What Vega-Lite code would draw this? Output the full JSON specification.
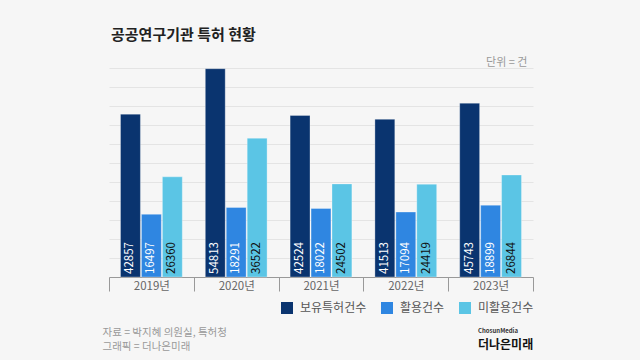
{
  "$schema": "https://vega.github.io/schema/vega-lite/v6.json",
  "width": 424,
  "height": 209,
  "autosize": {"type": "none"},
  "padding": {"left": 109, "top": 68, "right": 107, "bottom": 83},
  "background": "#f6f6f6",
  "config": {
    "view": {"stroke": null},
    "font": "Noto Sans CJK KR"
  },
  "title": {
    "text": "공공연구기관 특허 현황",
    "anchor": "start",
    "frame": "group",
    "fontSize": 15,
    "fontWeight": "bold",
    "color": "#222222",
    "dx": 2,
    "offset": 13
  },
  "data": {
    "values": [
      {"year": "2019년", "series": "보유특허건수", "value": 42857},
      {"year": "2019년", "series": "활용건수", "value": 16497},
      {"year": "2019년", "series": "미활용건수", "value": 26360},
      {"year": "2020년", "series": "보유특허건수", "value": 54813},
      {"year": "2020년", "series": "활용건수", "value": 18291},
      {"year": "2020년", "series": "미활용건수", "value": 36522},
      {"year": "2021년", "series": "보유특허건수", "value": 42524},
      {"year": "2021년", "series": "활용건수", "value": 18022},
      {"year": "2021년", "series": "미활용건수", "value": 24502},
      {"year": "2022년", "series": "보유특허건수", "value": 41513},
      {"year": "2022년", "series": "활용건수", "value": 17094},
      {"year": "2022년", "series": "미활용건수", "value": 24419},
      {"year": "2023년", "series": "보유특허건수", "value": 45743},
      {"year": "2023년", "series": "활용건수", "value": 18899},
      {"year": "2023년", "series": "미활용건수", "value": 26844}
    ]
  },
  "resolve": {"axis": {"x": "independent", "y": "independent"}},
  "layer": [
    {
      "mark": {"type": "bar", "stroke": "white", "strokeOpacity": 0.3, "strokeWidth": 1},
      "encoding": {
        "x": {
          "field": "year", "type": "nominal",
          "scale": {"paddingInner": 0, "paddingOuter": 0},
          "axis": {
            "orient": "bottom",
            "labelAngle": 0,
            "labelFontSize": 11.5,
            "labelColor": "#666666",
            "labelPadding": -11,
            "tickBand": "extent",
            "tickSize": 14,
            "tickColor": "#999999",
            "domainColor": "#999999",
            "title": ["자료 = 박지혜 의원실, 특허청", "그래픽 = 더나은미래"],
            "titleFontSize": 10.5,
            "titleFontWeight": "normal",
            "titleColor": "#999999",
            "titleAlign": "left",
            "titleAnchor": "start",
            "titleAngle": 0,
            "titleBaseline": "alphabetic",
            "titleLineHeight": 14,
            "titleX": -7,
            "titleY": 58
          }
        },
        "xOffset": {
          "field": "series", "type": "nominal",
          "sort": ["보유특허건수", "활용건수", "미활용건수"],
          "scale": {"paddingInner": 0.05, "paddingOuter": 0.55}
        },
        "y": {
          "field": "value", "type": "quantitative",
          "scale": {"domain": [0, 55000], "nice": false},
          "axis": {
            "orient": "left",
            "values": [0, 5000, 10000, 15000, 20000, 25000, 30000, 35000, 40000, 45000, 50000, 55000],
            "grid": true,
            "gridColor": "#e4e4e4",
            "labels": false,
            "ticks": false,
            "domain": false,
            "title": "단위 = 건",
            "titleAngle": 0,
            "titleAlign": "right",
            "titleBaseline": "alphabetic",
            "titleFontSize": 11,
            "titleFontWeight": "normal",
            "titleColor": "#999999",
            "titleX": 418,
            "titleY": -3
          }
        },
        "color": {
          "field": "series", "type": "nominal",
          "scale": {
            "domain": ["보유특허건수", "활용건수", "미활용건수"],
            "range": ["#0a346f", "#2f86e1", "#5bc5e5"]
          },
          "legend": {
            "orient": "none",
            "direction": "horizontal",
            "legendX": 172,
            "legendY": 234,
            "title": null,
            "symbolType": "square",
            "symbolSize": 144,
            "symbolStrokeWidth": 0,
            "symbolOpacity": 1,
            "labelFontSize": 12,
            "labelColor": "#555555",
            "labelOffset": 7,
            "columnPadding": 14,
            "padding": 0
          }
        }
      }
    },
    {
      "mark": {"type": "text", "angle": 270, "align": "left", "baseline": "middle", "dx": 3, "fontSize": 11.5},
      "encoding": {
        "x": {
          "field": "year", "type": "nominal",
          "axis": {
            "orient": "top",
            "labels": false, "ticks": false, "domain": false, "grid": false,
            "title": "더나은미래",
            "titleFontSize": 12,
            "titleFontWeight": "bold",
            "titleColor": "#111111",
            "titleAlign": "left",
            "titleAnchor": "start",
            "titleAngle": 0,
            "titleBaseline": "alphabetic",
            "titleX": 368.5,
            "titleY": 280
          }
        },
        "xOffset": {
          "field": "series", "type": "nominal",
          "sort": ["보유특허건수", "활용건수", "미활용건수"]
        },
        "y": {
          "datum": 0, "type": "quantitative",
          "axis": {
            "orient": "right",
            "labels": false, "ticks": false, "domain": false, "grid": false,
            "title": "ChosunMedia",
            "titleFontSize": 6,
            "titleFontWeight": "bold",
            "titleColor": "#333333",
            "titleAlign": "left",
            "titleAngle": 0,
            "titleBaseline": "alphabetic",
            "titleX": -55.5,
            "titleY": 264
          }
        },
        "text": {"field": "value", "type": "quantitative", "format": "d"},
        "color": {
          "condition": {"test": "datum.series === '미활용건수'", "value": "#111111"},
          "value": "#ffffff"
        }
      }
    }
  ]
}
